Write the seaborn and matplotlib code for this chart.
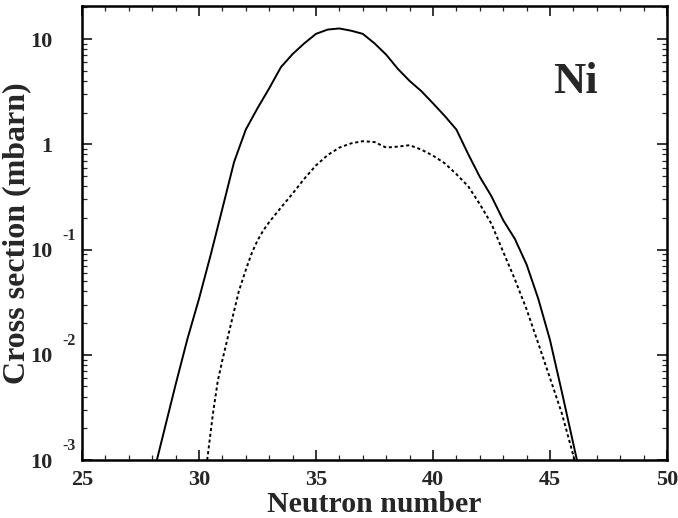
import matplotlib
matplotlib.use("Agg")
import numpy as np
import pandas as pd
import seaborn as sns
import matplotlib.pyplot as plt
from matplotlib.ticker import FixedLocator, LogLocator, NullFormatter, MultipleLocator

# ---- data ----
n_solid = [28.2, 29.0, 29.5, 30.0, 30.5, 31.0, 31.5, 32.0, 32.5, 33.0, 33.5, 34.0,
           34.5, 35.0, 35.5, 36.0, 36.5, 37.0, 37.5, 38.0, 38.5, 39.0, 39.5, 40.0,
           40.5, 41.0, 41.5, 42.0, 42.5, 43.0, 43.5, 44.0, 44.5, 45.0, 45.5, 46.15]
sigma_solid = [0.001, 0.0052, 0.014, 0.034, 0.089, 0.245, 0.68, 1.38, 2.2, 3.4, 5.4, 7.2,
               9.1, 11.2, 12.3, 12.6, 12.0, 11.2, 9.1, 7.1, 5.2, 4.0, 3.2, 2.45,
               1.86, 1.38, 0.81, 0.49, 0.32, 0.19, 0.126, 0.072, 0.034, 0.0138, 0.0045, 0.001]

n_dotted = [30.35, 30.6, 30.8, 31.0, 31.3, 31.7, 32.0, 32.25, 32.5, 32.75, 33.0, 33.5, 34.0, 34.5,
            35.0, 35.5, 36.0, 36.5, 37.0, 37.5, 38.0, 38.5, 39.0, 39.5, 40.0, 40.5,
            41.0, 41.5, 42.0, 42.5, 43.0, 43.5, 44.0, 44.5, 45.0, 45.5, 46.05]
sigma_dotted = [0.001, 0.0028, 0.0056, 0.0089, 0.017, 0.040, 0.064, 0.092, 0.122, 0.152, 0.182, 0.25, 0.34, 0.47,
                0.63, 0.79, 0.93, 1.02, 1.07, 1.05, 0.93, 0.95, 0.98, 0.89, 0.78, 0.66,
                0.52, 0.40, 0.27, 0.175, 0.095, 0.052, 0.027, 0.0128, 0.006, 0.0028, 0.001]

x_ticks = [25, 30, 35, 40, 45, 50]
y_ticks = [1e-3, 1e-2, 1e-1, 1, 10]
y_tick_labels = ["10", "10", "10", "1", "10"]
y_exponents = {1e-3: "-3", 1e-2: "-2", 1e-1: "-1"}

# ---- style ----
sns.set_style("ticks")
plt.rcParams["font.family"] = ["Liberation Serif", "DejaVu Serif"]
plt.rcParams["font.weight"] = "bold"

W, H = 678, 518
fig = plt.figure(figsize=(W / 100, H / 100), dpi=100)
left, right, top, bottom = 82, 667, 6, 460
ax = fig.add_axes([left / W, 1 - bottom / H, (right - left) / W, (bottom - top) / H])

df_s = pd.DataFrame({"N": n_solid, "sigma": sigma_solid})
df_d = pd.DataFrame({"N": n_dotted, "sigma": sigma_dotted})
sns.lineplot(data=df_s, x="N", y="sigma", ax=ax, color="black", lw=1.4,
             estimator=None, sort=False)
sns.lineplot(data=df_d, x="N", y="sigma", ax=ax, color="black", lw=1.4,
             linestyle=(0, (1.6, 1.4)), estimator=None, sort=False)

ax.set_yscale("log")
ax.set_xlim(25, 50)
ax.set_ylim(1e-3, 20.6)

ax.xaxis.set_major_locator(FixedLocator(x_ticks))
ax.xaxis.set_minor_locator(MultipleLocator(1))
ax.set_xticklabels([str(t) for t in x_ticks])
ax.yaxis.set_major_locator(FixedLocator(y_ticks))
ax.yaxis.set_minor_locator(LogLocator(base=10, subs=np.arange(2, 10)))
ax.yaxis.set_minor_formatter(NullFormatter())
ax.set_yticklabels(y_tick_labels)

ax.tick_params(axis="both", which="major", direction="in", length=7, width=1.3,
               top=True, right=True, labelsize=16)
ax.tick_params(axis="both", which="minor", direction="in", length=3.5, width=0.9,
               top=True, right=True)
ax.tick_params(axis="y", which="major", pad=21)
ax.tick_params(axis="x", which="major", pad=7)

for lab in ax.get_xticklabels() + ax.get_yticklabels():
    lab.set_fontweight("bold")

for val, exp in y_exponents.items():
    ax.annotate(exp, xy=(0, val), xycoords=("axes fraction", "data"),
                xytext=(-20, 14), textcoords="offset pixels",
                ha="left", va="center", fontsize=11.5, fontweight="bold")

for sp in ax.spines.values():
    sp.set_linewidth(1.8)
    sp.set_color("black")

ax.set_xlabel("Neutron number", fontsize=21.5, fontweight="bold", labelpad=1)
ax.set_ylabel("Cross section (mbarn)", fontsize=23, fontweight="bold", labelpad=-0.5)

ax.text(0.843, 0.808, "Ni", transform=ax.transAxes, ha="center", va="baseline",
        fontsize=32, fontweight="bold")

fig.savefig("out.png", dpi=100)
